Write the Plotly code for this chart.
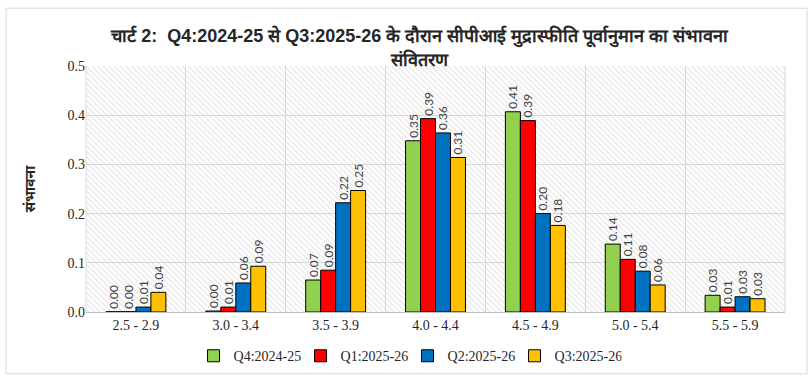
import plotly.graph_objects as go

categories = ["2.5 - 2.9", "3.0 - 3.4", "3.5 - 3.9", "4.0 - 4.4", "4.5 - 4.9", "5.0 - 5.4", "5.5 - 5.9"]
q4_2425 = [0.0005, 0.002, 0.065, 0.348, 0.407, 0.138, 0.034]
q1_2526 = [0.0005, 0.010, 0.085, 0.393, 0.389, 0.107, 0.010]
q2_2526 = [0.010, 0.059, 0.222, 0.364, 0.200, 0.083, 0.031]
q3_2526 = [0.040, 0.093, 0.247, 0.314, 0.176, 0.055, 0.027]
series_names = ["Q4:2024-25", "Q1:2025-26", "Q2:2025-26", "Q3:2025-26"]
series_colors = ["#92D050", "#FF0000", "#0070C0", "#FFC000"]
y_ticks = [0.0, 0.1, 0.2, 0.3, 0.4, 0.5]

title_text = "चार्ट 2:  Q4:2024-25 से Q3:2025-26 के दौरान सीपीआई मुद्रास्फीति पूर्वानुमान का संभावना<br>संवितरण"
y_title = "संभावना"

fig = go.Figure()

# hatched plot-area background (decoration)
fig.add_trace(go.Bar(
    x=[3.5], y=[0.5], width=[7], xaxis="x", yaxis="y",
    marker=dict(color="rgba(0,0,0,0)", line=dict(width=0),
                pattern=dict(shape="\\", fgcolor="#cccccc", size=4, solidity=0.3)),
    showlegend=False, hoverinfo="skip",
))

for name, vals, col in zip(series_names, [q4_2425, q1_2526, q2_2526, q3_2526], series_colors):
    fig.add_trace(go.Bar(
        x=categories, y=vals, name=name, xaxis="x2", yaxis="y2",
        marker=dict(color=col, line=dict(color="black", width=1)),
        texttemplate="%{y:.2f}", textposition="outside", textangle=-90,
        constraintext="none", cliponaxis=False,
        textfont=dict(family="Lato, Liberation Sans, sans-serif", size=12, color="#404040"),
    ))

fig.update_layout(
    width=812, height=383,
    margin=dict(l=86, r=27, t=66, b=70),
    paper_bgcolor="white", plot_bgcolor="white",
    barmode="group", bargap=0.4, bargroupgap=0,
    title=dict(text=title_text, x=0.517, xanchor="center", y=0.89, yanchor="middle",
               yref="container",
               font=dict(family="Liberation Sans Narrow, Arial Narrow, sans-serif", size=18, color="#262626", weight="bold")),
    xaxis=dict(range=[0, 7], dtick=1, tick0=0, showgrid=True, gridcolor="#d9d9d9", gridwidth=1,
               showticklabels=False, ticks="", zeroline=False, showline=False, fixedrange=True),
    yaxis=dict(range=[0, 0.5], tickvals=y_ticks, tickformat=".1f", showgrid=True, gridcolor="#d9d9d9",
               zeroline=False, showline=False, ticks="",
               tickfont=dict(family="Liberation Serif, serif", size=14, color="#262626"),
               title=dict(text=y_title, standoff=28,
                          font=dict(family="Noto Sans, sans-serif", size=14, color="#262626", weight="bold"))),
    xaxis2=dict(overlaying="x", type="category", showgrid=False, ticks="",
                tickfont=dict(family="Liberation Serif, serif", size=14, color="#262626"),
                showline=True, linecolor="#bfbfbf", linewidth=1, anchor="y2", side="bottom"),
    yaxis2=dict(overlaying="y", range=[0, 0.5], showgrid=False, showticklabels=False, zeroline=False,
                showline=False, ticks=""),
    legend=dict(orientation="h", x=0.46, xanchor="center", y=-0.11, yanchor="top",
                font=dict(family="Liberation Serif, serif", size=14, color="#262626"),
                entrywidth=62, entrywidthmode="pixels", itemwidth=30, tracegroupgap=0),
    shapes=[
        dict(type="rect", xref="paper", yref="paper", x0=-0.1144, x1=1.0315, y0=-0.251, y1=1.2348,
             line=dict(color="#d9d9d9", width=1), layer="below"),
        dict(type="line", xref="paper", yref="paper", x0=1, x1=1, y0=0, y1=1,
             line=dict(color="#d9d9d9", width=1)),
        dict(type="line", xref="paper", yref="paper", x0=0, x1=0, y0=0, y1=1,
             line=dict(color="#d9d9d9", width=1)),
    ],
)

fig.write_html("out.html", config={"displayModeBar": False},
               post_script="document.body.style.margin='0';")
